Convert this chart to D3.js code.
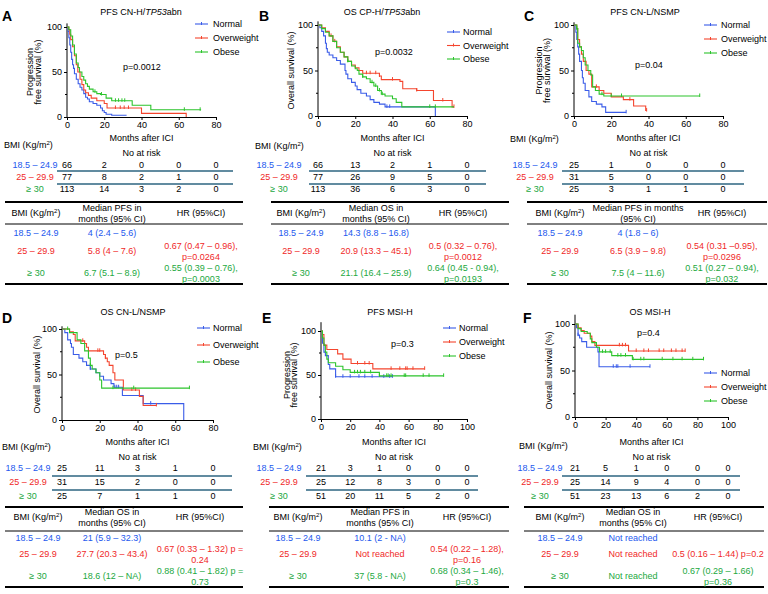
<!DOCTYPE html>
<html><head><meta charset="utf-8">
<script src="https://cdn.jsdelivr.net/npm/d3@7"></script>
<style>body{margin:0;background:#fff} svg text{font-family:"Liberation Sans",Arial,sans-serif;}</style>
</head><body><svg id="c" width="768" height="594"></svg>
<script>
// ---------------- DATA ----------------
const groups = ["Normal", "Overweight", "Obese"];
const bmiLabels = ["18.5 – 24.9", "25 – 29.9", "≥ 30"];
const xTicks80 = [0, 20, 40, 60, 80];
const xTicks100 = [0, 20, 40, 60, 80, 100];
const yTicks = [0, 50, 100];
const yMinorTicks = [25, 75];

// Kaplan-Meier steps: [month, survival %]
const A_normal = [[0,100],[0.6,95],[1,88],[1.5,80],[2,72],[2.5,64],[3,58],[3.5,54],[4,48],[5,42],[6,37],[7,33],[8,30],[9,26],[10,22],[11,20],[12,17],[14,15],[16,13],[18,10],[19,7],[20,5],[21,3],[24,2],[32,2]];
const A_over = [[0,100],[1,97],[1.5,92],[2,86],[3,78],[4,68],[5,58],[5.8,50],[7,42],[8,36],[9,30],[10,27],[11.5,24],[13,21],[16,18],[20,15],[21.5,10],[40,4],[64,0]];
const A_obese = [[0,100],[1,97],[2,90],[3,80],[4,70],[5,60],[6,55],[6.7,50],[8,45],[9,41],[10,37],[11,34],[12,31],[14,28],[16,26],[18,25],[21,21],[24,18],[35,13],[45,8],[72,8]];
const A_normal_c = [];
const A_over_c = [26, 28.6, 30.7, 33];
const A_obese_c = [15, 18.5, 26, 27.7, 29.5, 31, 63, 71.5];

const B_normal = [[0,100],[1,97],[2,93],[3,88],[4,80],[4.5,74],[5,70],[6,67],[8,64],[10,61],[12,57],[14.5,50],[15,46],[16,41],[18,37],[20,33],[21,29],[23,25],[26,22],[28,18],[30,15],[33,13],[36,10],[63,0]];
const B_over = [[0,100],[2,97],[4,93],[6,88],[8,82],[10,76],[12,70],[14,65],[16,60],[18,56],[20,53],[22,50],[24,47],[33,44],[34,40],[44,38],[45.5,30],[53,28],[62,17],[72,10],[73,10]];
const B_obese = [[0,100],[2,96],[4,92],[6,88],[8,82],[10,75],[12,70],[14,65],[16,60],[18,55],[20,52],[21.1,50],[22,46],[24,43],[26,41],[28,37],[30,33],[32,28],[34,24],[36,22],[40,19],[42,15],[45,10],[73,10]];
const B_normal_c = [37, 38.5];
const B_over_c = [7, 9, 26, 28, 31, 33, 40, 53, 67, 73];
const B_obese_c = [16, 24, 29, 31, 33, 34.5, 60, 63];

const C_normal = [[0,100],[1,92],[1.5,84],[2,76],[2.5,68],[3,60],[4,50],[4.5,42],[5,36],[6,28],[8,21],[9.5,16],[12,13],[15,10],[17,4],[28,4]];
const C_over = [[0,100],[1.5,96],[2,84],[3,76],[4,68],[5,60],[6.5,50],[8,46],[9.5,32],[13.5,28],[16,25],[20,21],[26.5,18],[32,11],[38.5,6],[39,6]];
const C_obese = [[0,100],[1.5,96],[2,80],[3,76],[4,72],[5,64],[6,56],[7.5,50],[9,45],[10,32],[11.5,28],[13.5,24],[16,22],[67.5,22]];
const C_normal_c = [28];
const C_over_c = [12, 30, 39];
const C_obese_c = [1.5, 15, 20, 25.5, 67.5];

const D_normal = [[0,100],[1.5,96],[3,88],[4.5,84],[5,80],[6,72],[9,68],[11,64],[13,60],[15,56],[18,52],[20,48],[22,44],[26,40],[27.5,36],[32,27],[43,18],[64.5,0]];
const D_over = [[0,100],[4,97],[6,94],[7,87],[12,84],[13,80],[14,76],[22,72],[23,68],[24,64],[25,60],[27,52],[28,44],[32.5,33],[41,26],[43,16],[50,16]];
const D_obese = [[0,100],[4,96],[8,88],[10,84],[12,76],[14,68],[15,60],[16,56],[18,52],[20,44],[21,35],[67.5,35]];
const D_normal_c = [15, 28, 29, 30, 47];
const D_over_c = [11, 19, 20, 23, 37, 39, 50];
const D_obese_c = [3, 15, 27, 38, 67.5];

const E_normal = [[0,100],[1,86],[2,76],[3,72],[5,62],[6,57],[10,48],[49,48]];
const E_over = [[0,100],[1,96],[2,84],[4,79],[11.4,74],[15,68],[20.6,63],[35.5,57],[71,57]];
const E_obese = [[0,100],[1,92],[2,84],[3,76],[4,68],[5,64],[10,60],[15,56],[20,53],[40,49],[84,49]];
const E_normal_c = [10, 15, 20, 26, 30, 35, 43, 47, 49];
const E_over_c = [25, 30, 33, 48, 54, 58, 59, 63, 71];
const E_obese_c = [23, 25, 27, 30, 34, 40, 45, 46, 48, 57, 58, 70, 74, 84];

const F_normal = [[0,100],[1,96],[2,88],[3,85],[4.4,81],[7.6,75],[15,70],[15.7,54],[49,54]];
const F_over = [[0,100],[2,96],[4,93],[6,90],[10,87],[11,81],[13,77],[35,71],[72,71]];
const F_obese = [[0,100],[2,95],[4,92],[8,90],[10,84],[11,80],[14,75],[16,70],[24,66],[37.5,62],[84,62]];
const F_normal_c = [2, 25, 27, 28, 36, 49];
const F_over_c = [2, 29, 31, 33, 40, 45, 48, 55, 58, 63, 66, 70, 72];
const F_obese_c = [18, 20, 23, 28, 30, 33, 38, 43, 45, 57, 64, 70, 77, 84];

// numbers at risk
const A_risk = [[66,2,0,0,0],[77,8,2,1,0],[113,14,3,2,0]];
const B_risk = [[66,13,2,1,0],[77,26,9,5,0],[113,36,6,3,0]];
const C_risk = [[25,1,0,0,0],[31,5,0,0,0],[25,3,1,1,0]];
const D_risk = [[25,11,3,1,0],[31,15,2,0,0],[25,7,1,1,0]];
const E_risk = [[21,3,1,0,0,0],[25,12,8,3,0,0],[51,20,11,5,2,0]];
const F_risk = [[21,5,1,0,0,0],[25,14,9,4,0,0],[51,23,13,6,2,0]];

// medians and hazard ratios
const A_med = ["4 (2.4 – 5.6)", "5.8 (4 – 7.6)", "6.7 (5.1 – 8.9)"];
const B_med = ["14.3 (8.8 – 16.8)", "20.9 (13.3 – 45.1)", "21.1 (16.4 – 25.9)"];
const C_med = ["4 (1.8 – 6)", "6.5 (3.9 – 9.8)", "7.5 (4 – 11.6)"];
const D_med = ["21 (5.9 – 32.3)", "27.7 (20.3 – 43.4)", "18.6 (12 – NA)"];
const E_med = ["10.1 (2 - NA)", "Not reached", "37 (5.8 - NA)"];
const F_med = ["Not reached", "Not reached", "Not reached"];

const A_hr = [[], ["0.67 (0.47 – 0.96),", "p=0.0264"], ["0.55 (0.39 – 0.76),", "p=0.0003"]];
const B_hr = [[], ["0.5 (0.32 – 0.76),", "p=0.0012"], ["0.64 (0.45 - 0.94),", "p=0.0193"]];
const C_hr = [[], ["0.54 (0.31 –0.95),", "p=0.0296"], ["0.51 (0.27 – 0.94),", "p=0.032"]];
const D_hr = [[], ["0.67 (0.33 – 1.32) p =", "0.24"], ["0.88 (0.41 – 1.82) p =", "0.73"]];
const E_hr = [[], ["0.54 (0.22 – 1.28),", "p=0.16"], ["0.68 (0.34 – 1.46),", "p=0.3"]];
const F_hr = [[], ["0.5 (0.16 – 1.44) p=0.2"], ["0.67 (0.29 – 1.66)", "p=0.36"]];

const medPFS = ["Median PFS in", "months (95% CI)"];
const medOS = ["Median OS in", "months (95% CI)"];
const medPFSc = ["Median PFS in months", "(95% CI)"];
const ylabPFS = ["Progression", "free survival (%)"];
const ylabOS = ["Overall survival (%)"];

const panels = [
  {id:"A", title:[["PFS CN-H/",false],["TP53",true],["abn",false]], ylab:ylabPFS, p:"p=0.0012", ticks:xTicks80,
   curves:[A_normal,A_over,A_obese], cens:[A_normal_c,A_over_c,A_obese_c], risk:A_risk, medHdr:medPFS, med:A_med, hr:A_hr},
  {id:"B", title:[["OS CP-H/",false],["TP53",true],["abn",false]], ylab:ylabOS, p:"p=0.0032", ticks:xTicks80,
   curves:[B_normal,B_over,B_obese], cens:[B_normal_c,B_over_c,B_obese_c], risk:B_risk, medHdr:medOS, med:B_med, hr:B_hr},
  {id:"C", title:[["PFS CN-L/NSMP",false]], ylab:ylabPFS, p:"p=0.04", ticks:xTicks80,
   curves:[C_normal,C_over,C_obese], cens:[C_normal_c,C_over_c,C_obese_c], risk:C_risk, medHdr:medPFSc, med:C_med, hr:C_hr},
  {id:"D", title:[["OS CN-L/NSMP",false]], ylab:ylabOS, p:"p=0.5", ticks:xTicks80,
   curves:[D_normal,D_over,D_obese], cens:[D_normal_c,D_over_c,D_obese_c], risk:D_risk, medHdr:medOS, med:D_med, hr:D_hr},
  {id:"E", title:[["PFS MSI-H",false]], ylab:ylabPFS, p:"p=0.3", ticks:xTicks100,
   curves:[E_normal,E_over,E_obese], cens:[E_normal_c,E_over_c,E_obese_c], risk:E_risk, medHdr:medPFS, med:E_med, hr:E_hr},
  {id:"F", title:[["OS MSI-H",false]], ylab:ylabOS, p:"p=0.4", ticks:xTicks100,
   curves:[F_normal,F_over,F_obese], cens:[F_normal_c,F_over_c,F_obese_c], risk:F_risk, medHdr:medOS, med:F_med, hr:F_hr}
];

// ---------------- LAYOUT & STYLE ----------------
const curveColors = ["#3a5ce8", "#f4452e", "#2cc42c"];
const textColors = ["#2358ee", "#f02828", "#22a83e"];
const sepColor = "#2c6480";
const FS = 9;

const row1 = {month:138, no:153, rows:[165,177,189], lines:[171,184], top:202, hdr:213, thin:224, srows:[233,251,273], bottom:284};
const row2 = {month:442, no:457, rows:[468,482,496], lines:[476,490], top:507, hdr:517, thin:531, srows:[538,554,576], bottom:587};

const layout = {
  A:{plot:[67,216,117,27], ytop:104, letter:[2,16], title:[141,12], ylab:[30,38], leg:[195,208,213,24,14], p:[123,67],
     bmi:[4,145], lab:35, lx:[57,233], sx:[5,243], cols:[36,112,201], R:row1},
  B:{plot:[318,467,116,25], ytop:104, letter:[259,16], title:[382,12], ylab:[291], leg:[447,460,463,32,13.5], p:[375,52],
     bmi:[255,146], lab:279, lx:[309,486], sx:[271,509], cols:[301,376,463], R:row1},
  C:{plot:[574,723,116,25], ytop:103, letter:[524,16], title:[645,12], ylab:[539,547], leg:[704,717,721,25,14], p:[635,65],
     bmi:[510,139], lab:535, lx:[562,744], sx:[527,767], cols:[560,638,722], R:row1},
  D:{plot:[62,213,420,329], ytop:103, letter:[2,318], title:[133,312], ylab:[37], leg:[197,210,213,328,17], p:[115,355],
     bmi:[2,447], lab:28, lx:[52,232], sx:[5,243], cols:[38,112,200], R:row2},
  E:{plot:[321,467,419,331], ytop:110, letter:[262,318], title:[390,312], ylab:[287,294], leg:[443,456,459,328,14], p:[391,344],
     bmi:[253,447], lab:279, lx:[306,478], sx:[269,509], cols:[298,380,467], R:row2},
  F:{plot:[575,728,417,324], ytop:110, letter:[523,318], title:[650,312], ylab:[549], leg:[704,717,721,373,14], p:[637,333],
     bmi:[519,446], lab:540, lx:[562,740], sx:[524,764], cols:[560,633,718], R:row2}
};

// ---------------- DRAW ----------------
const svg = d3.select("#c");

function txt(g, x, y, s, opts = {}) {
  const t = g.append("text").attr("x", x).attr("y", y).attr("dy", "0.35em")
    .attr("font-size", opts.fs || FS).attr("fill", opts.fill || "#000")
    .attr("text-anchor", opts.anchor || "middle").text(s);
  if (opts.weight) t.attr("font-weight", opts.weight);
  return t;
}
function bmiHeader(g, x, y, anchor) {
  const t = g.append("text").attr("x", x).attr("y", y).attr("dy", "0.35em")
    .attr("font-size", FS).attr("text-anchor", anchor);
  t.append("tspan").text("BMI (Kg/m");
  t.append("tspan").attr("font-size", 6).attr("dy", "-0.5em").text("2");
  t.append("tspan").attr("dy", "0.3em").text(")");
}
function survAt(curve, t) {
  let v = curve[0][1];
  for (const d of curve) { if (d[0] <= t) v = d[1]; }
  return v;
}

panels.forEach(P => {
  const L = layout[P.id];
  const g = svg.append("g");
  const xmax = P.ticks[P.ticks.length - 1];
  const x = d3.scaleLinear().domain([0, xmax]).range([L.plot[0], L.plot[1]]);
  const y = d3.scaleLinear().domain([0, 100]).range([L.plot[2], L.plot[3]]);

  // letter & title
  txt(g, L.letter[0], L.letter[1], P.id, {fs:14, weight:"bold", anchor:"start"});
  const tt = g.append("text").attr("x", L.title[0]).attr("y", L.title[1]).attr("dy", "0.35em")
    .attr("font-size", FS).attr("text-anchor", "middle");
  P.title.forEach(([s, it]) => { const sp = tt.append("tspan").text(s); if (it) sp.attr("font-style", "italic"); });

  // axes
  const ax = g.append("g").attr("transform", `translate(0,${L.plot[2]})`)
    .call(d3.axisBottom(x).tickValues(P.ticks).tickSize(3).tickSizeOuter(0).tickPadding(2));
  const ay = g.append("g").attr("transform", `translate(${L.plot[0]},0)`)
    .call(d3.axisLeft(y).tickValues(yTicks).tickSize(3).tickSizeOuter(0).tickPadding(2));
  ay.select(".domain").remove();
  g.append("line").attr("x1", L.plot[0]).attr("x2", L.plot[0]).attr("y1", L.plot[2]).attr("y2", y(L.ytop))
    .attr("stroke", "#000");
  yMinorTicks.forEach(v => g.append("line").attr("x1", L.plot[0] - 2).attr("x2", L.plot[0])
    .attr("y1", y(v)).attr("y2", y(v)).attr("stroke", "#000"));
  [ax, ay].forEach(a => { a.attr("font-family", null).attr("font-size", FS);
    a.selectAll("text").attr("font-size", FS).attr("fill", "#000"); a.selectAll("line,path").attr("stroke", "#000"); });

  // y label
  const cy = (L.plot[2] + L.plot[3]) / 2;
  P.ylab.forEach((s, i) => {
    g.append("text").attr("transform", `translate(${L.ylab[i]},${cy}) rotate(-90)`).attr("dy", "0.35em")
      .attr("font-size", FS).attr("text-anchor", "middle").text(s);
  });

  // curves
  const line = d3.line().x(d => x(d[0])).y(d => y(d[1])).curve(d3.curveStepAfter);
  P.curves.forEach((c, i) => {
    g.append("path").attr("d", line(c)).attr("fill", "none").attr("stroke", curveColors[i]).attr("stroke-width", 1.1);
    P.cens[i].forEach(t => {
      const v = survAt(c, t);
      g.append("line").attr("x1", x(t)).attr("x2", x(t)).attr("y1", y(v) - 2.5).attr("y2", y(v) + 1)
        .attr("stroke", curveColors[i]).attr("stroke-width", 1);
    });
  });

  // legend
  groups.forEach((s, i) => {
    const ly = L.leg[3] + i * L.leg[4];
    g.append("line").attr("x1", L.leg[0]).attr("x2", L.leg[1]).attr("y1", ly).attr("y2", ly)
      .attr("stroke", curveColors[i]).attr("stroke-width", 1.1);
    const mx = (L.leg[0] + L.leg[1]) / 2;
    g.append("line").attr("x1", mx).attr("x2", mx).attr("y1", ly - 2).attr("y2", ly + 1)
      .attr("stroke", curveColors[i]);
    txt(g, L.leg[2], ly, s, {anchor:"start"});
  });
  txt(g, L.p[0], L.p[1], P.p, {anchor:"start"});

  // risk table
  const R = L.R;
  const pcx = (L.plot[0] + L.plot[1]) / 2;
  txt(g, pcx, R.month, "Months after ICI");
  bmiHeader(g, L.bmi[0], L.bmi[1], "start");
  txt(g, pcx, R.no, "No at risk");
  P.risk.forEach((row, i) => {
    txt(g, L.lab, R.rows[i], bmiLabels[i], {fill:textColors[i]});
    row.forEach((n, j) => txt(g, x(P.ticks[j]), R.rows[i], n));
  });
  R.lines.forEach(ly => g.append("line").attr("x1", L.lx[0]).attr("x2", L.lx[1]).attr("y1", ly).attr("y2", ly)
    .attr("stroke", sepColor).attr("stroke-width", 1.5));

  // stats table
  const hl = (yy, w) => g.append("line").attr("x1", L.sx[0]).attr("x2", L.sx[1]).attr("y1", yy).attr("y2", yy)
    .attr("stroke", "#000").attr("stroke-width", w);
  hl(R.top, 2); hl(R.thin, 1); hl(R.bottom, 2);
  bmiHeader(g, L.cols[0], R.hdr, "middle");
  txt(g, L.cols[1], R.hdr - 5.5, P.medHdr[0]);
  txt(g, L.cols[1], R.hdr + 5.5, P.medHdr[1]);
  txt(g, L.cols[2], R.hdr, "HR (95%CI)");
  bmiLabels.forEach((s, i) => {
    const ry = R.srows[i];
    txt(g, L.cols[0], ry, s, {fill:textColors[i]});
    txt(g, L.cols[1], ry, P.med[i], {fill:textColors[i]});
    const h = P.hr[i];
    if (h.length === 1) txt(g, L.cols[2], ry, h[0], {fill:textColors[i]});
    if (h.length === 2) { txt(g, L.cols[2], ry - 5.5, h[0], {fill:textColors[i]}); txt(g, L.cols[2], ry + 5.5, h[1], {fill:textColors[i]}); }
  });
});
</script></body></html>
